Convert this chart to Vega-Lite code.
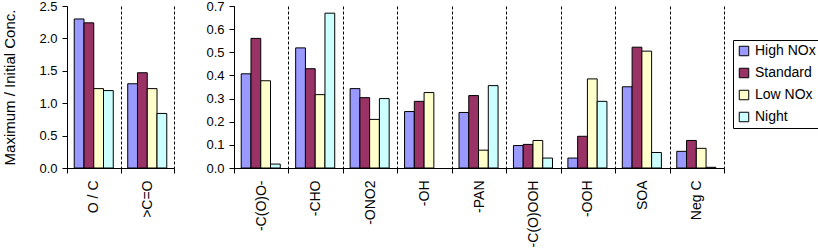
{
  "$schema": "https://vega.github.io/schema/vega-lite/v6.json",
  "padding": {"left": 2, "top": 0, "right": 0, "bottom": 0},
  "background": "white",
  "config": {
    "view": {"stroke": null},
    "font": "Liberation Sans",
    "axis": {"domainColor": "black", "tickColor": "black", "labelColor": "black", "titleColor": "black", "labelFont": "Liberation Sans", "titleFont": "Liberation Sans", "labelFontSize": 14, "titleFontSize": 15, "titleFontWeight": "normal"},
    "concat": {"spacing": 30}
  },
  "datasets": {
    "ratios": [
      {"group": "O / C", "scenario": "High NOx", "value": 2.30},
      {"group": "O / C", "scenario": "Standard", "value": 2.24},
      {"group": "O / C", "scenario": "Low NOx", "value": 1.225},
      {"group": "O / C", "scenario": "Night", "value": 1.195},
      {"group": ">C=O", "scenario": "High NOx", "value": 1.30},
      {"group": ">C=O", "scenario": "Standard", "value": 1.47},
      {"group": ">C=O", "scenario": "Low NOx", "value": 1.225},
      {"group": ">C=O", "scenario": "Night", "value": 0.842}
    ],
    "groups": [
      {"group": "-C(O)O-", "scenario": "High NOx", "value": 0.407},
      {"group": "-C(O)O-", "scenario": "Standard", "value": 0.56},
      {"group": "-C(O)O-", "scenario": "Low NOx", "value": 0.377},
      {"group": "-C(O)O-", "scenario": "Night", "value": 0.017},
      {"group": "-CHO", "scenario": "High NOx", "value": 0.519},
      {"group": "-CHO", "scenario": "Standard", "value": 0.429},
      {"group": "-CHO", "scenario": "Low NOx", "value": 0.317},
      {"group": "-CHO", "scenario": "Night", "value": 0.669},
      {"group": "-ONO2", "scenario": "High NOx", "value": 0.343},
      {"group": "-ONO2", "scenario": "Standard", "value": 0.304},
      {"group": "-ONO2", "scenario": "Low NOx", "value": 0.21},
      {"group": "-ONO2", "scenario": "Night", "value": 0.30},
      {"group": "-OH", "scenario": "High NOx", "value": 0.244},
      {"group": "-OH", "scenario": "Standard", "value": 0.288},
      {"group": "-OH", "scenario": "Low NOx", "value": 0.326},
      {"group": "-PAN", "scenario": "High NOx", "value": 0.24},
      {"group": "-PAN", "scenario": "Standard", "value": 0.313},
      {"group": "-PAN", "scenario": "Low NOx", "value": 0.077},
      {"group": "-PAN", "scenario": "Night", "value": 0.356},
      {"group": "-C(O)OOH", "scenario": "High NOx", "value": 0.097},
      {"group": "-C(O)OOH", "scenario": "Standard", "value": 0.102},
      {"group": "-C(O)OOH", "scenario": "Low NOx", "value": 0.119},
      {"group": "-C(O)OOH", "scenario": "Night", "value": 0.043},
      {"group": "-OOH", "scenario": "High NOx", "value": 0.043},
      {"group": "-OOH", "scenario": "Standard", "value": 0.137},
      {"group": "-OOH", "scenario": "Low NOx", "value": 0.385},
      {"group": "-OOH", "scenario": "Night", "value": 0.288},
      {"group": "SOA", "scenario": "High NOx", "value": 0.351},
      {"group": "SOA", "scenario": "Standard", "value": 0.522},
      {"group": "SOA", "scenario": "Low NOx", "value": 0.505},
      {"group": "SOA", "scenario": "Night", "value": 0.067},
      {"group": "Neg C", "scenario": "High NOx", "value": 0.072},
      {"group": "Neg C", "scenario": "Standard", "value": 0.119},
      {"group": "Neg C", "scenario": "Low NOx", "value": 0.085},
      {"group": "Neg C", "scenario": "Night", "value": 0.003}
    ]
  },
  "hconcat": [
    {
      "width": 107,
      "height": 162,
      "data": {"name": "ratios"},
      "mark": {"type": "bar", "stroke": "black", "strokeWidth": 1},
      "encoding": {
        "x": {"field": "group", "type": "nominal", "sort": null, "scale": {"paddingInner": 0, "paddingOuter": 0},
              "axis": {"title": null, "labelAngle": -90, "tickBand": "extent", "grid": true, "gridColor": "black", "gridDash": [3, 2], "gridOpacity": 1, "tickSize": 5, "labelPadding": 7}},
        "xOffset": {"field": "scenario", "type": "nominal", "sort": ["High NOx", "Standard", "Low NOx", "Night"], "scale": {"domain": ["High NOx", "Standard", "Low NOx", "Night"], "paddingInner": 0, "paddingOuter": 0.74}},
        "y": {"field": "value", "type": "quantitative", "scale": {"domain": [0, 2.5], "nice": false},
              "axis": {"title": "Maximum / Initial Conc.", "values": [0, 0.5, 1, 1.5, 2, 2.5], "format": ".1f", "grid": false, "tickSize": 5, "labelPadding": 5, "labelFontSize": 13, "titlePadding": 21}},
        "color": {"field": "scenario", "type": "nominal", "sort": ["High NOx", "Standard", "Low NOx", "Night"],
                  "scale": {"domain": ["High NOx", "Standard", "Low NOx", "Night"], "range": ["#9999FF", "#993366", "#FFFFCC", "#CCFFFF"]},
                  "legend": {"title": null, "orient": "none", "legendX": 666, "legendY": 34, "strokeColor": "black", "fillColor": "white", "padding": 4, "symbolType": "square", "symbolSize": 90, "symbolStrokeColor": "black", "symbolStrokeWidth": 1, "labelFontSize": 14, "labelFont": "Liberation Sans", "labelColor": "black", "rowPadding": 8, "labelOffset": 4}}
      }
    },
    {
      "width": 490,
      "height": 162,
      "data": {"name": "groups"},
      "mark": {"type": "bar", "stroke": "black", "strokeWidth": 1},
      "encoding": {
        "x": {"field": "group", "type": "nominal", "sort": null, "scale": {"paddingInner": 0, "paddingOuter": 0},
              "axis": {"title": null, "labelAngle": -90, "tickBand": "extent", "grid": true, "gridColor": "black", "gridDash": [3, 2], "gridOpacity": 1, "tickSize": 5, "labelPadding": 7}},
        "xOffset": {"field": "scenario", "type": "nominal", "sort": ["High NOx", "Standard", "Low NOx", "Night"], "scale": {"domain": ["High NOx", "Standard", "Low NOx", "Night"], "paddingInner": 0, "paddingOuter": 0.74}},
        "y": {"field": "value", "type": "quantitative", "scale": {"domain": [0, 0.7], "nice": false},
              "axis": {"title": null, "values": [0, 0.1, 0.2, 0.3, 0.4, 0.5, 0.6, 0.7], "format": ".1f", "grid": false, "tickSize": 5, "labelPadding": 5, "labelFontSize": 13}},
        "color": {"field": "scenario", "type": "nominal", "sort": ["High NOx", "Standard", "Low NOx", "Night"],
                  "scale": {"domain": ["High NOx", "Standard", "Low NOx", "Night"], "range": ["#9999FF", "#993366", "#FFFFCC", "#CCFFFF"]},
                  "legend": {"title": null, "orient": "none", "legendX": 666, "legendY": 34, "strokeColor": "black", "fillColor": "white", "padding": 4, "symbolType": "square", "symbolSize": 90, "symbolStrokeColor": "black", "symbolStrokeWidth": 1, "labelFontSize": 14, "labelFont": "Liberation Sans", "labelColor": "black", "rowPadding": 8, "labelOffset": 4}}
      }
    }
  ],
  "resolve": {"scale": {"color": "shared"}}
}
